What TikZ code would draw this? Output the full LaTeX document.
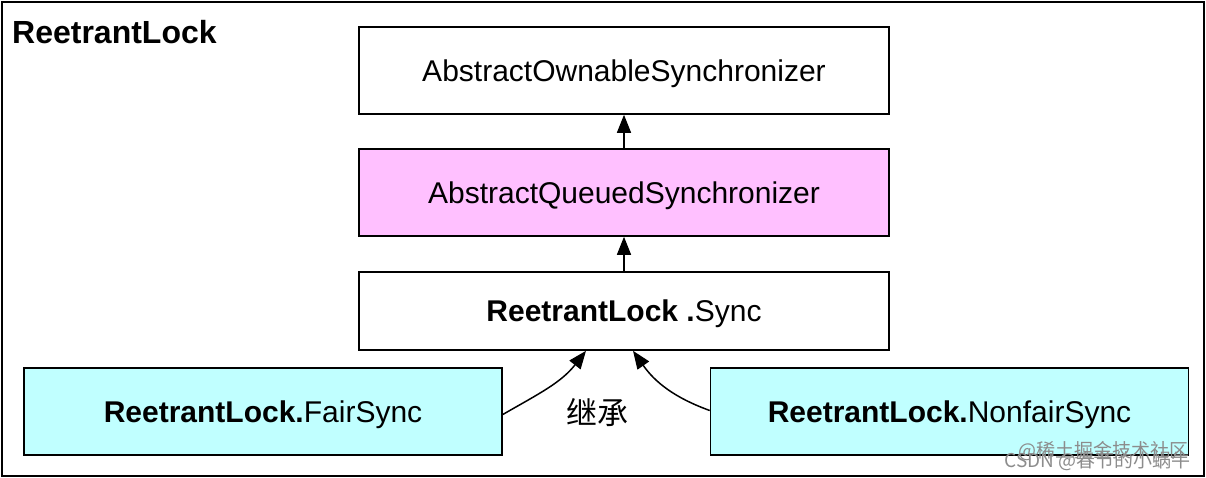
\documentclass[tikz,border=0pt]{standalone}
\usepackage{fontspec}
\setmainfont{Liberation Sans}
\newfontfamily\cjk{Noto Sans CJK SC}
\usetikzlibrary{arrows.meta,calc}
\definecolor{aqspink}{HTML}{FFC0FF}
\definecolor{synccyan}{HTML}{C0FFFF}
\begin{document}
\begin{tikzpicture}[x=1pt,y=-1pt,
  box/.style={draw=black,line width=1.6pt,minimum width=530pt,minimum height=87pt,inner sep=0pt,text height=21.5pt,text depth=0pt,font=\fontsize{30}{36}\selectfont},
  sidebox/.style={draw=black,line width=1.6pt,fill=synccyan,minimum width=478pt,minimum height=87pt,inner sep=0pt,text height=21.5pt,text depth=0pt,font=\fontsize{30}{36}\selectfont},
  inh/.style={-{Triangle[length=18pt,width=14pt]},line width=1.5pt},
  wm/.style={text=black!45,font=\cjk\fontsize{19}{22}\selectfont,inner sep=0pt,anchor=base east}]
\useasboundingbox (0,0) rectangle (1206,478);
\node[draw=black,line width=1.6pt,minimum width=1202pt,minimum height=474pt,inner sep=0pt] (frame) at (603,239) {};
\node[anchor=base west,inner sep=0pt,font=\bfseries\fontsize{32}{38}\selectfont] (title) at (12,44) {ReetrantLock};
\node[box] (aos) at (624,70.5) {AbstractOwnableSynchronizer};
\node[box,fill=aqspink] (aqs) at (624,192.5) {AbstractQueuedSynchronizer};
\node[box,minimum height=78pt] (sync) at (624,311) {\textbf{ReetrantLock .}Sync};
\node[sidebox] (fair) at (263,411.5) {\textbf{ReetrantLock.}FairSync};
\node[sidebox] (nonfair) at (949.5,411.5) {\textbf{ReetrantLock.}NonfairSync};
\draw[inh] (aqs.north) -- (aos.south);
\draw[inh] (sync.north) -- (aqs.south);
\coordinate (fairend) at ($(sync.south)+(-38,0)$);
\coordinate (nonfairend) at ($(sync.south)+(9,0)$);
\draw[inh] ($(fair.east)+(0,3)$) to[out=30,in=-128] (fairend);
\draw[inh] ($(nonfair.west)+(0,-1)$) to[out=160,in=-55] (nonfairend);
\node[font=\cjk\fontsize{31}{36}\selectfont,inner sep=0pt] (label) at (597,413) {继承};
\node[wm] (wm1) at (1189,457) {@稀土掘金技术社区};
\node[wm] (wm2) at (1191,467) {CSDN @春节的小蜗牛};
\end{tikzpicture}
\end{document}
